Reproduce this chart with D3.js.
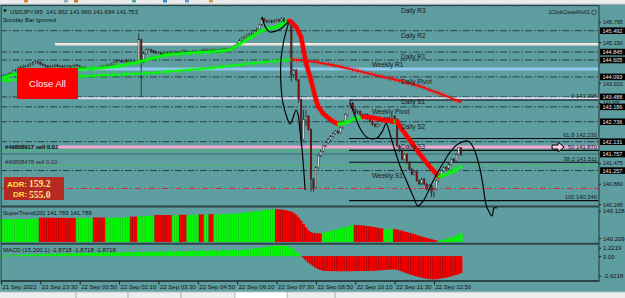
<!DOCTYPE html>
<html>
<head>
<meta charset="utf-8">
<script src="https://cdn.jsdelivr.net/npm/d3@7"></script>
<style>
  body { margin: 0; background: #5f9ea0; overflow: hidden; }
  svg { display: block; font-family: "Liberation Sans", Arial, sans-serif; }
</style>
</head>
<body>
<div id="chart"></div>
<script>
// ---------------- data ----------------
// closes per M5 bar, bar 0 = 21 Sep 22:10
const closes = [
  144.12,144.14,144.15,144.18,144.21,144.27,144.30,144.36,144.39,144.42,
  144.42,144.45,144.48,144.52,144.55,144.52,144.48,144.45,144.42,144.39,
  144.42,144.42,144.45,144.42,144.42,144.39,144.42,144.42,144.39,144.42,
  144.45,144.42,144.39,144.39,144.36,144.36,144.33,144.36,144.36,144.36,
  144.39,144.42,144.42,144.45,144.45,144.48,144.52,144.58,144.58,144.55,
  144.58,144.55,144.55,144.58,144.55,144.55,145.22,144.55,144.80,144.91,
  144.91,144.88,144.85,144.82,144.82,144.79,144.76,144.79,144.82,144.85,
  144.85,144.82,144.82,144.85,144.88,144.85,144.82,144.85,144.88,144.85,
  144.85,144.88,144.91,144.88,144.91,144.91,144.88,144.91,144.91,144.91,
  144.94,144.91,144.94,144.94,144.97,145.03,145.09,145.21,145.27,145.30,
  145.36,145.39,145.42,145.48,145.54,145.67,145.85,145.79,145.76,145.79,
  145.76,145.79,145.82,145.79,145.85,145.76,145.70,145.76,144.15,144.30,
  144.00,143.40,142.20,142.80,142.90,142.50,141.00,140.75,141.35,141.70,
  141.85,142.00,142.10,142.20,142.30,142.38,142.45,142.40,142.55,142.75,
  142.95,143.20,143.30,143.10,143.00,143.05,142.95,142.90,142.95,142.85,
  142.75,142.65,142.60,142.65,142.75,142.80,142.85,142.80,142.85,142.90,
  142.80,142.00,141.85,141.60,141.75,141.50,141.30,141.15,141.20,140.95,
  140.85,141.00,140.85,140.70,140.80,140.60,140.70,140.95,141.10,141.25,
  141.35,141.30,141.45,141.60,141.55,141.75,141.95,141.753
];
// visible long wicks: [bar, high, low] (null = ordinary)
const wickBars = [
  [56,145.42,null],[57,145.25,143.50],[106,145.91,null],[114,145.91,null],
  [118,null,143.95],[121,null,143.30],[122,null,142.00],[123,143.10,null],
  [124,143.10,142.60],[126,null,140.62],[127,null,140.62],[142,143.40,null],
  [175,null,140.45],[176,null,140.45],[186,141.96,null],[187,141.960,141.694]
];
// moving averages, [bar, price] at the turning points
const fastMA = [
  [0,144.06],[6,144.18],[16,144.26],[31,144.33],[40,144.36],[48,144.42],[56,144.55],
  [67,144.76],[77,144.82],[85,144.85],[93,144.91],[97,145.08],[101,145.27],[106,145.50],
  [113,145.63],[117,145.79],[118,145.76],[120,145.60],[122,145.30],[124,144.51],
  [126,144.00],[128,143.40],[129,143.19],[131,142.98],[134,142.79],[137,142.66],
  [139,142.68],[143,142.80],[147,142.89],[151,142.86],[155,142.80],[160,142.73],
  [161,142.75],[162,142.60],[166,142.20],[170,141.78],[174,141.40],[178,141.07],
  [182,141.18],[185,141.28],[187,141.38]
];
const slowMA = [
  [0,143.98],[31,144.10],[40,144.14],[61,144.21],[85,144.36],[101,144.50],[118,144.62],
  [125,144.58],[135,144.45],[145,144.28],[155,144.10],[162,143.98],[170,143.82],
  [178,143.60],[187,143.33]
];
// black projection curves
const curveA = [
  [106.1,145.907],[107.7,145.574],[109.3,145.453],[111.8,145.483],[114.2,145.574],
  [116.7,145.756],[115.0,145.211],[113.8,144.606],[113.8,143.849],[114.6,143.304],
  [116.3,142.850],[117.5,142.668],[118.7,142.850],[119.9,143.092],[120.7,142.971],
  [121.5,142.486],[122.4,141.881],[123.2,141.124],[123.6,140.670]
];
const curveB = [
  [141.9,143.304],[143.9,142.910],[146.3,142.486],[149.2,142.244],[152.8,142.244],
  [155.3,142.486],[156.5,142.698],[158.1,142.365],[159.8,141.941],[162.2,141.397],
  [165.0,140.912],[167.5,140.488],[169.5,140.186],[171.9,140.367],[174.8,140.821],
  [177.6,141.215],[180.5,141.578],[182.9,141.851],[185.8,142.062],[189.8,142.153],
  [191.9,141.972],[194.3,141.427],[195.9,140.821],[197.2,140.216],[198.4,140.004],
  [199.6,139.883],[200.4,140.125],[201.6,140.125]
];
// pivot levels
const levelNames  = ["Daily R3","Daily R2","Daily R1","Weekly R1","Daily Pivot","Daily S1","Weekly Pivot","Daily S2","Daily S3","Weekly S1"];
const levelPrices = [146.25,145.492,144.845,144.605,144.093,143.488,143.186,142.736,142.131,141.257];
// fibonacci retracement
const fibRatios = ["0","61.8","50","38.2","100"];
const fibPrices = [143.396,142.230,141.870,141.511,140.346];
const fibStartBar = 141.5;
// other horizontal objects
const bandPrices  = [145.08,144.33,143.45,141.97];
const bandFromBar = [22,31,31,22];
const orderLabels = ["#49808917 sell 0.02","#49808478 sell 0.10"];
const orderPrices = [141.86,141.41];
const bidPrice = 141.757;
const redLevel = 140.715;
// price axis (the ticks hidden under the black level boxes are left out)
const priceTicks = [145.765,145.150,143.920,143.305,141.475,140.860,140.245];
// time axis
const timeTickBars = [0,16,32,48,64,80,96,112,128,144,160,176];
const timeLabels = ["21 Sep 2022","21 Sep 23:30","22 Sep 00:50","22 Sep 02:10","22 Sep 03:30","22 Sep 04:50",
  "22 Sep 06:10","22 Sep 07:30","22 Sep 08:50","22 Sep 10:10","22 Sep 11:30","22 Sep 12:50"];
// SuperTrend(20) histogram
const superTrend = [
  144.14,144.15,144.16,144.16,144.17,144.18,144.18,144.19,144.20,144.20,144.21,144.22,144.22,144.23,144.24,144.24,
  144.44,144.44,144.43,144.43,144.43,144.42,144.42,144.42,144.41,144.41,144.41,144.40,144.40,144.40,144.39,
  144.33,144.34,144.34,144.35,144.35,144.36,144.36,
  144.48,144.48,144.47,144.47,144.46,
  144.40,144.41,144.42,144.43,144.44,144.46,144.47,144.49,144.50,144.52,
  144.62,144.62,144.61,
  144.66,144.68,144.70,144.72,144.73,144.74,144.75,
  144.92,144.92,144.91,144.91,144.90,144.90,144.89,
  144.86,144.87,144.88,
  144.95,144.95,144.94,
  144.90,144.91,144.92,144.93,144.94,
  145.00,145.00,
  144.97,144.98,
  145.04,145.04,
  145.00,145.02,145.04,145.06,145.08,145.10,145.12,145.14,145.17,145.20,145.24,145.28,145.32,145.36,
  145.41,145.46,145.51,145.56,145.62,145.68,145.73,145.77,145.81,145.85,145.88,
  145.90,145.88,145.85,145.80,145.72,145.62,145.50,145.28,144.95,144.50,143.95,143.35,142.75,142.25,
  141.95,141.78,141.72,141.70,141.70,
  141.80,141.90,142.00,142.10,142.22,142.33,142.45,142.56,142.67,142.78,142.90,143.02,143.15,
  143.17,143.15,143.12,143.08,143.04,142.98,142.92,142.85,142.78,142.70,142.62,142.55,
  142.42,142.43,142.44,142.45,
  142.47,142.38,142.28,142.16,142.04,141.93,141.82,141.71,141.60,141.46,141.31,141.17,141.05,140.94,
  140.82,140.70,140.58,140.47,
  140.44,140.52,140.61,140.71,140.83,140.96,141.10,141.28,141.52,141.79
];
const stDownRuns = [[16,30],[38,42],[53,55],[63,69],[73,75],[81,82],[85,86],[112,130],[144,155],[160,177]];
// MACD(15,200,1) histogram
const macdHist = [
  0.02,0.04,0.05,0.07,0.08,0.10,0.11,0.12,0.14,0.15,0.16,0.17,0.18,0.19,0.20,0.21,0.22,
  0.23,0.24,0.24,0.25,0.26,0.26,0.27,0.28,0.28,0.29,0.30,0.30,0.31,0.32,0.33,0.34,
  0.34,0.35,0.35,0.36,0.36,0.37,0.37,0.38,0.38,0.39,0.39,0.40,0.40,0.41,0.41,0.42,
  0.42,0.43,0.43,0.44,0.44,0.45,0.45,0.46,0.46,0.46,0.47,0.47,0.47,0.48,0.48,0.49,0.49,
  0.50,0.50,0.51,0.52,0.52,0.53,0.53,0.54,0.54,0.55,0.55,0.56,0.56,0.57,0.57,0.58,
  0.58,0.59,0.59,0.60,0.60,0.61,0.61,0.62,0.62,0.63,0.63,0.64,0.64,0.65,0.65,0.66,0.67,
  0.70,0.73,0.76,0.79,0.82,0.85,0.89,0.93,
  0.97,1.01,1.05,1.08,1.11,1.13,1.15,
  1.15,1.14,1.11,
  1.02,0.88,0.67,0.45,0.23,
  0.03,
  -0.20,-0.45,-0.70,-0.92,-1.10,-1.28,-1.42,-1.52,-1.60,
  -1.62,-1.63,-1.64,-1.65,-1.65,-1.66,-1.66,-1.66,-1.66,-1.66,-1.65,-1.65,-1.65,-1.64,-1.64,-1.64,-1.63,-1.63,-1.62,
  -1.61,-1.60,-1.58,-1.56,-1.54,-1.52,-1.50,-1.48,-1.47,-1.47,-1.50,
  -1.58,-1.68,-1.78,-1.88,-1.98,-2.07,-2.15,-2.23,-2.30,-2.36,-2.42,-2.47,-2.51,-2.54,-2.55,
  -2.53,-2.50,-2.46,-2.41,-2.35,-2.29,-2.22,-2.15,-2.07,-1.98,-1.87
];

// ---------------- layout ----------------
const W = 625, H = 298;
const PR = 599;          // right edge of plot, price axis starts here
const xB = d3.scaleLinear().domain([0, 176]).range([1, 434]);
const bw = xB(1) - xB(0);
const yP = d3.scaleLinear().domain([140.245, 145.765]).range([204, 21.7]);
const yST = d3.scaleLinear().domain([140.209, 146.128]).range([242, 208]);
const yM = d3.scaleLinear().domain([-2.6218, 1.2219]).range([280, 245]);
const GREEN = "#00ff00", RED = "#ff0000";

const svg = d3.select("#chart").append("svg").attr("width", W).attr("height", H);
svg.append("rect").attr("width", W).attr("height", H).attr("fill", "#5f9ea0");

const defs = svg.append("defs");
defs.append("clipPath").attr("id", "mainClip").append("rect")
  .attr("x", 1.5).attr("y", 5.5).attr("width", PR - 1.5).attr("height", 200);

// ---------------- main panel ----------------
const main = svg.append("g").attr("clip-path", "url(#mainClip)");

// pivot lines (dash dot)
main.selectAll(".pivot").data(levelPrices).join("line")
  .attr("x1", 0).attr("x2", PR)
  .attr("y1", d => yP(d)).attr("y2", d => yP(d))
  .attr("stroke", "#1e3637").attr("stroke-width", 0.9)
  .attr("stroke-dasharray", "7,2,1.5,2");

// coloured horizontal bands
const bandColors = ["#f4e6e0", "#8fc8ee", "#dddcf0", "#f1a8cb"];
const bandWidths = [2.5, 3, 2, 3];
main.selectAll(".band").data(bandPrices).join("line")
  .attr("x1", (d, i) => xB(bandFromBar[i])).attr("x2", PR)
  .attr("y1", d => yP(d)).attr("y2", d => yP(d))
  .attr("stroke", (d, i) => bandColors[i]).attr("stroke-width", (d, i) => bandWidths[i]);

// order lines
main.selectAll(".order").data(orderPrices).join("line")
  .attr("x1", 0).attr("x2", PR)
  .attr("y1", d => yP(d)).attr("y2", d => yP(d))
  .attr("stroke", "#3ccf3c").attr("stroke-width", 1)
  .attr("stroke-dasharray", "4,2,1,2");

// bid line and red level
main.append("line").attr("x1", 0).attr("x2", PR).attr("y1", yP(bidPrice)).attr("y2", yP(bidPrice))
  .attr("stroke", "#3e6c6d").attr("stroke-width", 1);
main.append("line").attr("x1", 0).attr("x2", PR).attr("y1", yP(redLevel)).attr("y2", yP(redLevel))
  .attr("stroke", "#e0262a").attr("stroke-width", 1).attr("stroke-dasharray", "6,3,1.5,3");

// fibonacci
main.selectAll(".fib").data(fibPrices).join("line")
  .attr("x1", xB(fibStartBar)).attr("x2", PR)
  .attr("y1", d => yP(d)).attr("y2", d => yP(d))
  .attr("stroke", "#0a0a0a").attr("stroke-width", 1.1);

// candles
const wick = 0.04;
const candles = closes.map((c, i) => {
  const o = i ? closes[i - 1] : c;
  let h = Math.max(o, c) + wick, l = Math.min(o, c) - wick;
  const w = wickBars.find(d => d[0] === i);
  if (w) { if (w[1] != null) h = w[1]; if (w[2] != null) l = w[2]; }
  return { i, o, h, l, c };
});
const cg = main.append("g");
cg.selectAll(".wick").data(candles).join("line")
  .attr("x1", d => xB(d.i)).attr("x2", d => xB(d.i))
  .attr("y1", d => yP(d.h)).attr("y2", d => yP(d.l))
  .attr("stroke", "#1c1c1c").attr("stroke-width", 0.8);
cg.selectAll(".body").data(candles).join("rect")
  .attr("x", d => xB(d.i) - 0.8).attr("width", 1.6)
  .attr("y", d => yP(Math.max(d.o, d.c)))
  .attr("height", d => Math.max(0.8, Math.abs(yP(d.o) - yP(d.c))))
  .attr("fill", d => d.c >= d.o ? "#cdd6d6" : "#9a0d0d")
  .attr("stroke", "#1c1c1c").attr("stroke-width", 0.35);

// moving averages coloured by slope
function drawMA(knots, wUp, wDown, fuzz) {
  const g = main.append("g");
  for (let k = 1; k < knots.length; k++) {
    const a = knots[k - 1], b = knots[k];
    const up = b[1] >= a[1];
    const col = up ? GREEN : RED;
    g.append("line")
      .attr("x1", xB(a[0])).attr("y1", yP(a[1])).attr("x2", xB(b[0])).attr("y2", yP(b[1]))
      .attr("stroke", col).attr("stroke-width", fuzz).attr("stroke-opacity", 0.75)
      .attr("stroke-dasharray", "0.7," + (bw - 0.7).toFixed(2));
    g.append("line")
      .attr("x1", xB(a[0])).attr("y1", yP(a[1])).attr("x2", xB(b[0])).attr("y2", yP(b[1]))
      .attr("stroke", col).attr("stroke-width", up ? wUp : wDown)
      .attr("stroke-linecap", "round");
  }
}
drawMA(slowMA, 1.6, 1.6, 5);
drawMA(fastMA, 2.4, 4.2, 6);

// pivot labels
main.selectAll(".plabel").data(levelNames).join("text")
  .attr("x", d => d.startsWith("Weekly") ? 372 : 401)
  .attr("y", (d, i) => yP(levelPrices[i]) + 7)
  .attr("font-size", 6.5).attr("fill", "#181818").text(d => d);

// fib labels
main.selectAll(".flabel").data(fibPrices).join("text")
  .attr("x", PR - 2).attr("y", d => yP(d) - 1.5).attr("text-anchor", "end")
  .attr("font-size", 5.8).attr("fill", "#1a1a1a")
  .text((d, i) => fibRatios[i] + "  " + d.toFixed(3));

// order labels
main.selectAll(".olabel").data(orderPrices).join("text")
  .attr("x", 5).attr("y", d => yP(d) - 1.2)
  .attr("font-size", 5.8).attr("fill", (d, i) => i ? "#2a2a2a" : "#0a0a0a")
  .attr("font-weight", (d, i) => i ? "normal" : "bold")
  .text((d, i) => orderLabels[i]);

// arrow on the order band
const ay = yP(bandPrices[3]), ax = xB(224);
svg.append("path")
  .attr("d", `M${ax},${ay - 2} h6 v-3 l6,5 l-6,5 v-3 h-6 z`)
  .attr("fill", "#f6d3e4").attr("stroke", "#000").attr("stroke-width", 1);

// ---------------- SuperTrend panel ----------------
const isDown = i => stDownRuns.some(r => i >= r[0] && i <= r[1]);
const st = svg.append("g");
st.selectAll("rect").data(superTrend).join("rect")
  .attr("x", (d, i) => xB(i) - bw / 2).attr("width", bw + 0.15)
  .attr("y", d => yST(d)).attr("height", d => 242 - yST(d))
  .attr("fill", (d, i) => isDown(i) ? RED : GREEN);
st.selectAll("line").data(superTrend).join("line")
  .attr("x1", (d, i) => xB(i) - bw / 2).attr("x2", (d, i) => xB(i) - bw / 2)
  .attr("y1", d => yST(d)).attr("y2", 242)
  .attr("stroke", (d, i) => isDown(i) ? "#8a0000" : "#1fc01f").attr("stroke-width", 0.6);

// ---------------- MACD panel ----------------
const mg = svg.append("g");
mg.selectAll("rect").data(macdHist).join("rect")
  .attr("x", (d, i) => xB(i) - bw / 2).attr("width", bw + 0.15)
  .attr("y", d => yM(Math.max(0, d))).attr("height", d => Math.max(0.6, Math.abs(yM(d) - yM(0))))
  .attr("fill", d => d >= 0 ? GREEN : RED);
mg.selectAll("line").data(macdHist).join("line")
  .attr("x1", (d, i) => xB(i) - bw / 2).attr("x2", (d, i) => xB(i) - bw / 2)
  .attr("y1", d => yM(Math.max(0, d))).attr("y2", d => yM(Math.min(0, d)))
  .attr("stroke", d => d >= 0 ? "#1fc01f" : "#8a0000").attr("stroke-width", 0.6);

// ---------------- frames and separators ----------------
const frame = svg.append("g").attr("stroke", "#2c4546").attr("fill", "none");
frame.append("line").attr("x1", 1).attr("x2", PR).attr("y1", 5.5).attr("y2", 5.5).attr("stroke-width", 1);
[206.5, 243.8, 281].forEach(y =>
  frame.append("line").attr("x1", 1).attr("x2", PR).attr("y1", y).attr("y2", y).attr("stroke-width", 2));
frame.append("line").attr("x1", 1.2).attr("x2", 1.2).attr("y1", 5).attr("y2", 282).attr("stroke-width", 1);
frame.append("line").attr("x1", PR).attr("x2", PR).attr("y1", 5).attr("y2", 282).attr("stroke-width", 1.2);

// ---------------- black projection curves ----------------
const curveLine = d3.line().x(d => xB(d[0])).y(d => yP(d[1])).curve(d3.curveCatmullRom.alpha(0.5));
[curveA, curveB].forEach(c =>
  svg.append("path").attr("d", curveLine(c)).attr("fill", "none")
    .attr("stroke", "#050505").attr("stroke-width", 1.2));

// ---------------- price axis ----------------
const boxLevels = levelPrices.slice(1).concat([bidPrice]);
// a tick label sitting right next to a black level box is nudged away / shrunk
const near = v => boxLevels.map(b => yP(b) - yP(v)).filter(d => Math.abs(d) < 7.5);
const nudge = v => {
  const n = near(v);
  if (n.length !== 1) return 0;
  return n[0] > 0 ? -1.2 : 1.2;
};
const tickSize = v => near(v).length > 1 ? 4.6 : 5.5;
const axP = svg.append("g").attr("transform", `translate(${PR},0)`)
  .call(d3.axisRight(yP).tickValues(priceTicks).tickSize(2).tickFormat(d3.format(".3f")));
axP.select(".domain").remove();
axP.selectAll("line").attr("stroke", "#1a1a1a");
axP.selectAll("text").attr("x", 4).attr("dy", null).attr("y", d => nudge(d))
  .attr("dominant-baseline", "central")
  .attr("font-size", d => tickSize(d)).attr("fill", "#111")
  .attr("font-family", "Liberation Sans, Arial, sans-serif");

const boxes = svg.append("g").selectAll("g").data(boxLevels).join("g")
  .attr("transform", d => `translate(${PR + 1},${yP(d)})`);
boxes.append("rect").attr("x", 0).attr("y", -3.3).attr("width", 25).attr("height", 6.6).attr("fill", "#000");
boxes.append("text").attr("x", 2.5).attr("y", 0.2).attr("dominant-baseline", "central")
  .attr("font-size", 5.5).attr("fill", "#e8e8e8")
  .text(d => d.toFixed(3));

// sub-panel scale labels
const subLabels = [
  { y: yST(146.128) + 3.2, t: "146.128" }, { y: yST(140.209) - 3.5, t: "140.209" },
  { y: yM(1.2219) + 3.2, t: "1.2219" }, { y: yM(0) + 0.5, t: "0.00" }, { y: yM(-2.6218) - 4, t: "-2.6218" }
];
const sl = svg.append("g").selectAll("g").data(subLabels).join("g");
sl.append("line").attr("x1", PR).attr("x2", PR + 2).attr("y1", d => d.y).attr("y2", d => d.y).attr("stroke", "#1a1a1a");
sl.append("text").attr("x", PR + 4).attr("y", d => d.y + 2.1).attr("font-size", 6).attr("fill", "#111").text(d => d.t);

// ---------------- time axis ----------------
const axT = svg.append("g").attr("transform", "translate(0,281.5)")
  .call(d3.axisBottom(xB).tickValues(timeTickBars).tickSize(3).tickFormat((d, i) => timeLabels[i]));
axT.select(".domain").remove();
axT.selectAll("line").attr("stroke", "#1a1a1a");
axT.selectAll("text").attr("text-anchor", "start").attr("x", 1).attr("y", 3.5)
  .attr("font-size", 6).attr("fill", "#111").attr("font-family", "Liberation Sans, Arial, sans-serif");

// ---------------- top toolbar and bottom tabs ----------------
svg.append("rect").attr("x", 0).attr("y", 0).attr("width", W).attr("height", 4).attr("fill", "#ececec");
svg.append("line").attr("x1", 0).attr("x2", W).attr("y1", 4.3).attr("y2", 4.3).attr("stroke", "#9fb3b3");
const icons = [[24, "#d98c2b"], [64, "#9aa"], [74, "#c77a2a"], [132, "#5a9"], [163, "#3a8ad0"], [185, "#69c"], [209, "#d0a040"]];
svg.selectAll(".ico").data(icons).join("rect")
  .attr("x", d => d[0]).attr("y", 0).attr("width", 4).attr("height", 2.5).attr("fill", d => d[1]);
svg.append("rect").attr("x", 0).attr("y", 292).attr("width", W).attr("height", 6).attr("fill", "#eeeeee");
svg.append("line").attr("x1", 0).attr("x2", W).attr("y1", 292).attr("y2", 292).attr("stroke", "#b8c4c4");
[76, 128, 181, 235, 287, 335].forEach(x =>
  svg.append("line").attr("x1", x).attr("x2", x).attr("y1", 292).attr("y2", 298).attr("stroke", "#9a9a9a").attr("stroke-width", 0.8));
svg.append("rect").attr("x", 235.5).attr("y", 292.5).attr("width", 51).attr("height", 6).attr("fill", "#ffffff");

// ---------------- texts and widgets ----------------
svg.append("path").attr("d", "M3,9.5 h4 l-2,3 z").attr("fill", "#111");
svg.append("text").attr("x", 10).attr("y", 13.5).attr("font-size", 6).attr("fill", "#111")
  .attr("xml:space", "preserve").text("USDJPY,M5  141.952 141.960 141.694 141.753");
svg.append("text").attr("x", 3).attr("y", 21.5).attr("font-size", 6).attr("fill", "#111").text("Sunday Bar ignored");
svg.append("text").attr("x", 590).attr("y", 14).attr("text-anchor", "end").attr("font-size", 5.2).attr("fill", "#111")
  .text("1ClickCloseAllv01");
svg.append("circle").attr("cx", 594).attr("cy", 12.3).attr("r", 2.3).attr("fill", "none").attr("stroke", "#111").attr("stroke-width", 0.6);

svg.append("text").attr("x", 3).attr("y", 214.5).attr("font-size", 6).attr("fill", "#111").text("SuperTrend(20) 141.789 141.789");
svg.append("text").attr("x", 3).attr("y", 251.5).attr("font-size", 6).attr("fill", "#111").text("MACD (15,200,1) -1.8718 -1.8718 -1.8718");

// Close All button
svg.append("rect").attr("x", 17).attr("y", 68).attr("width", 61).attr("height", 31).attr("fill", "#ff0000");
svg.append("text").attr("x", 47.5).attr("y", 87).attr("text-anchor", "middle").attr("font-size", 9.5)
  .attr("fill", "#f2f2f2").text("Close All");

// ADR box
svg.append("rect").attr("x", 4).attr("y", 177).attr("width", 60).attr("height", 23).attr("fill", "#b62a24");
svg.append("text").attr("x", 7).attr("y", 186.5).attr("font-size", 8).attr("font-weight", "bold").attr("fill", "#ffe03a").text("ADR:");
svg.append("text").attr("x", 29).attr("y", 187).attr("font-size", 9.5).attr("font-weight", "bold")
  .attr("font-family", "Liberation Serif, serif").attr("fill", "#ffe48a").text("159.2");
svg.append("text").attr("x", 13).attr("y", 197).attr("font-size", 8).attr("font-weight", "bold").attr("fill", "#ffe03a").text("DR:");
svg.append("text").attr("x", 29).attr("y", 197.5).attr("font-size", 9.5).attr("font-weight", "bold")
  .attr("font-family", "Liberation Serif, serif").attr("fill", "#ffe48a").text("555.0");
</script>
</body>
</html>
